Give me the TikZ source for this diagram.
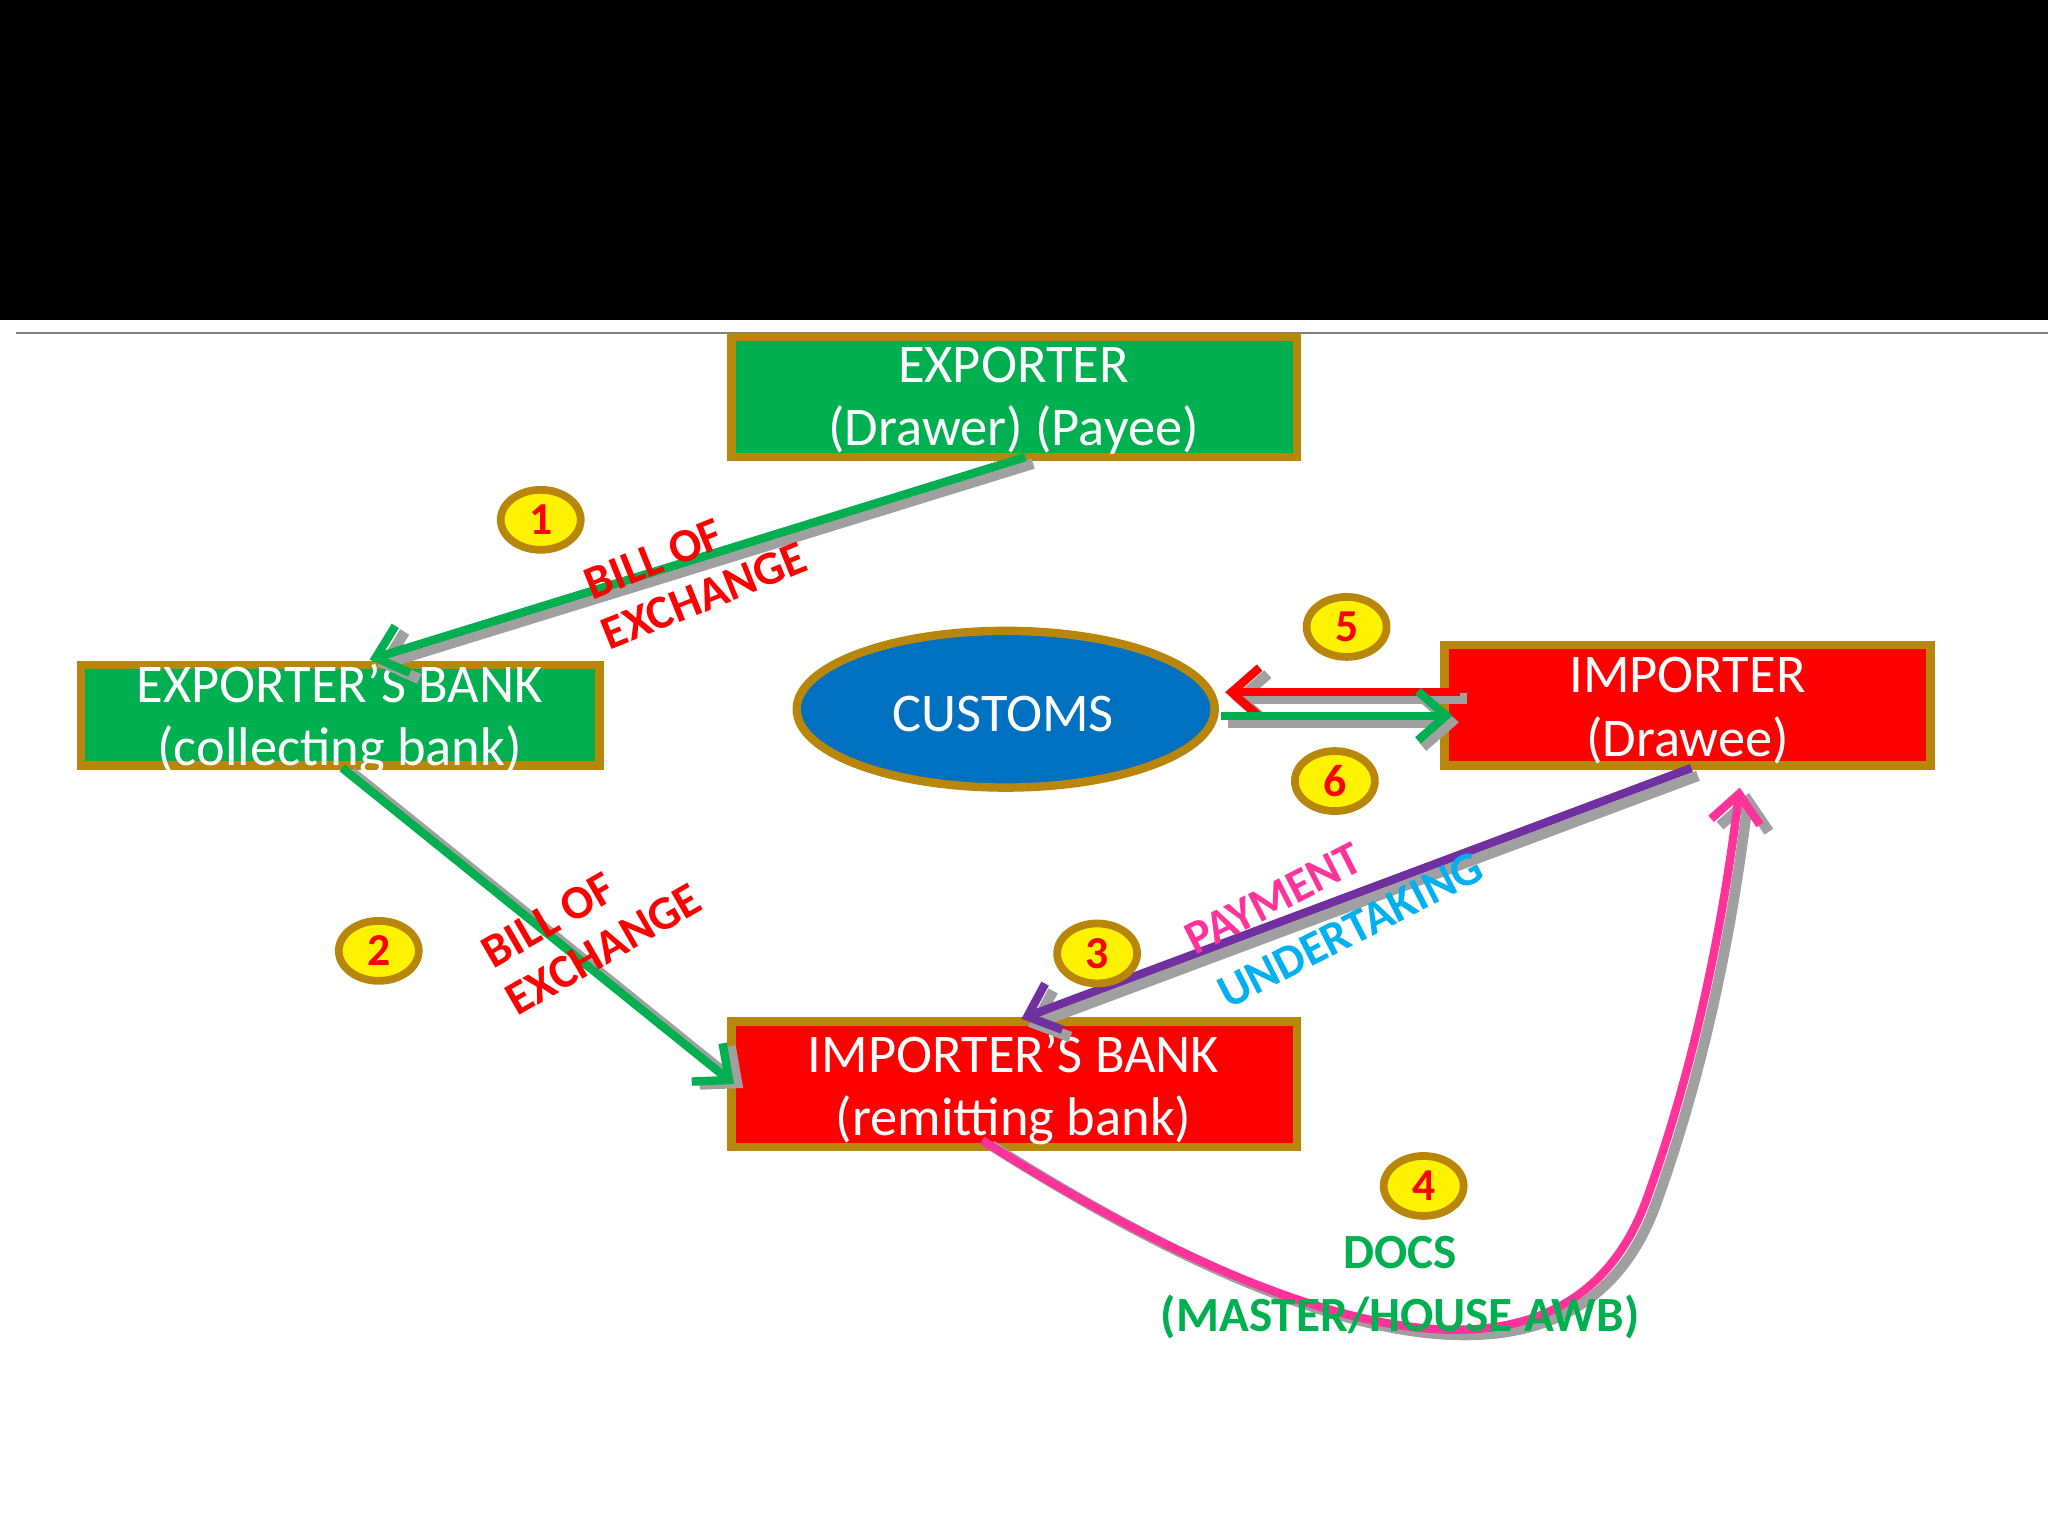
\documentclass[tikz,border=0pt]{standalone}
\usepackage{fontspec}
\setmainfont{Carlito}
\usetikzlibrary{arrows.meta,shapes.geometric}
\definecolor{gold}{RGB}{184,134,11}
\definecolor{mgreen}{RGB}{0,176,80}
\definecolor{mred}{RGB}{255,0,0}
\definecolor{mblue}{RGB}{0,112,192}
\definecolor{mpink}{RGB}{255,51,153}
\definecolor{mpurple}{RGB}{112,48,160}
\definecolor{mcyan}{RGB}{0,176,240}
\definecolor{shade}{RGB}{160,160,160}
\begin{document}
\begin{tikzpicture}[x=0.013061cm,y=-0.013061cm,
  boxd/.style={draw=gold,line width=2.4pt},
  btxt/.style={text=white,align=center,font=\fontsize{15.5}{18}\selectfont},
  num/.style={ellipse,draw=gold,fill=yellow,line width=2.2pt,text=mred,font=\bfseries\fontsize{13}{13}\selectfont,inner sep=0pt,minimum width=0.8cm,minimum height=0.6cm},
  arr/.style={line width=2.4pt,-{Straight Barb[length=8pt,width=14pt]}},
  sh/.style={arr,draw=shade,line width=3pt},
  lbl/.style={font=\bfseries\fontsize{13.5}{15}\selectfont,align=center}]
\useasboundingbox (0,0) rectangle (1568,1176);
\fill[white] (0,0) rectangle (1568,1176);
\fill[black] (0,0) rectangle (1568,245);
\draw[gray,line width=0.8pt] (12,255) -- (1568,255);
% boxes
\draw[boxd,fill=mgreen] (560,258) rectangle (993,350);
\node[btxt] (expt) at (776,307) {EXPORTER\\(Drawer) (Payee)};
\draw[boxd,fill=mgreen] (62,509) rectangle (459,586);
\node[btxt] (eb) at (260,551) {EXPORTER’S BANK\\(collecting bank)};
\draw[boxd,fill=mred] (1106,494) rectangle (1478,586);
\node[btxt] (imp) at (1292,544) {IMPORTER\\(Drawee)};
\draw[boxd,fill=mred] (560,782) rectangle (993,878);
\node[btxt] (ib) at (776,834) {IMPORTER’S BANK\\(remitting bank)};
\draw[gold,fill=mblue,line width=2.4pt] (770,543) ellipse [x radius=160,y radius=60];
\node[btxt] (cus) at (768,547) {CUSTOMS};
% coordinates
\coordinate (p1s) at (785,350); \coordinate (p1e) at (283,505);
\coordinate (p2s) at (262,588); \coordinate (p2e) at (562,830);
\coordinate (p5s) at (1118,530); \coordinate (p5e) at (938,530);
\coordinate (p6s) at (935,548); \coordinate (p6e) at (1112,548);
\coordinate (p3s) at (1295,588); \coordinate (p3e) at (782,780);
\coordinate (p4s) at (752,873); \coordinate (p4e) at (1332,603);
% shadows
\draw[sh] ([shift={(6,5)}]p1s) -- ([shift={(6,5)}]p1e);
\draw[sh] ([shift={(7,3)}]p2s) -- ([shift={(7,3)}]p2e);
\draw[sh] ([shift={(5,5)}]p5s) -- ([shift={(5,5)}]p5e);
\draw[sh] ([shift={(5,5)}]p6s) -- ([shift={(5,5)}]p6e);
\draw[sh] ([shift={(5,6)}]p3s) -- ([shift={(5,6)}]p3e);
\draw[sh] ([shift={(7,4)}]p4s) .. controls (1007,1034) and (1207,1084) .. (1267,924) .. controls (1307,814) and (1327,704) .. ([shift={(7,4)}]p4e);
% arrows
\draw[arr,mgreen] (p1s) -- (p1e);
\draw[arr,mgreen] (p2s) -- (p2e);
\draw[arr,mred] (p5s) -- (p5e);
\draw[arr,mgreen] (p6s) -- (p6e);
\draw[arr,mpurple] (p3s) -- (p3e);
\draw[arr,mpink] (p4s) .. controls (1000,1030) and (1200,1080) .. (1260,920) .. controls (1300,810) and (1320,700) .. (p4e);
% numbers
\node[num] (n1) at (414,398) {1};
\node[num] (n5) at (1031,480) {5};
\node[num] (n6) at (1022,598) {6};
\node[num] (n2) at (290,728) {2};
\node[num] (n3) at (840,730) {3};
\node[num] (n4) at (1090,908) {4};
% labels
\node[lbl,text=mred,rotate=22] (l1) at (508,447) {BILL OF\\\hspace*{1.4em}EXCHANGE};
\node[lbl,text=mred,rotate=30] (l2) at (430,722) {BILL OF\\\hspace*{1.4em}EXCHANGE};
\node[lbl,text=mpink,rotate=27] (l3) at (975,688) {PAYMENT};
\node[lbl,text=mcyan,rotate=27] (l4) at (1034,712) {UNDERTAKING};
\node[lbl,text=mgreen,font=\bfseries\fontsize{14}{18}\selectfont] (l5) at (1072,986) {DOCS\\(MASTER/HOUSE AWB)};
\end{tikzpicture}
\end{document}
